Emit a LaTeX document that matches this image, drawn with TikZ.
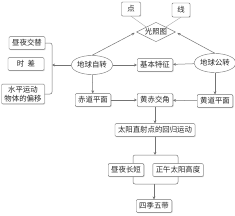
\documentclass[tikz,border=0pt]{standalone}
\usepackage{fontspec}
\newfontfamily\cjk{Noto Sans CJK SC}
\usetikzlibrary{shapes.geometric,shadows,arrows.meta}
\definecolor{linegray}{RGB}{115,115,115}
\definecolor{faintgray}{RGB}{170,170,170}
\tikzset{
  txt/.style={font=\cjk\fontsize{7.4}{8.8}\selectfont, text=black!85},
  box/.style={txt, draw=linegray, fill=white, rounded corners=1pt, inner xsep=3pt, inner ysep=3pt,
    drop shadow={shadow xshift=0.7pt, shadow yshift=-0.7pt, fill=black!35}},
  oval/.style={txt, ellipse, draw=linegray, fill=white, inner sep=0pt, minimum width=40pt, minimum height=19pt},
  diam/.style={txt, diamond, aspect=2, draw=linegray, fill=white, inner sep=0.5pt},
  arr/.style={draw=linegray, line width=0.5pt, -{Stealth[length=3pt,width=2.8pt]}},
  ln/.style={draw=linegray, line width=0.5pt},
  faint/.style={draw=faintgray, line width=0.4pt}
}
\begin{document}
\begin{tikzpicture}[x=1pt,y=-1pt]
  \useasboundingbox (0,0) rectangle (235,215);
  % top: light diagram
  \node[box, minimum width=19pt, minimum height=14pt] (dian) at (131,9) {点};
  \node[box, minimum width=18pt, minimum height=14pt] (xian) at (181,10) {线};
  \node[diam] (gzt) at (156,32) {光照图};
  \draw[faint] (dian.south) -- (gzt.north west);
  \draw[faint] (xian.south) -- (gzt.north east);
  % left column
  \node[box, minimum width=36pt] (zyjt) at (27,43) {昼夜交替};
  \node[box, minimum width=36pt] (shic) at (26,64) {时\ \ 差};
  \node[box, align=center, inner ysep=2pt] (pyi) at (23,94) {水平运动\\物体的偏移};
  % main row
  \node[oval] (zizh) at (92,65) {地球自转};
  \node[box] (jbtz) at (155,65) {基本特征};
  \node[oval, minimum width=42pt] (gozh) at (215,63) {地球公转};
  \node[box] (cdpm) at (93,100) {赤道平面};
  \node[box] (hcjj) at (155,100) {黄赤交角};
  \node[box] (hdpm) at (215,101) {黄道平面};
  \node[box] (tyzs) at (155,130) {太阳直射点的回归运动};
  \node[box] (zycd) at (126,170) {昼夜长短};
  \node[box] (zwgd) at (178,170) {正午太阳高度};
  \node[box] (sjwd) at (154,206) {四季五带};
  % connectors
  \draw[arr, shorten >=2pt] (zizh.north) -- (gzt.west);
  \draw[arr, shorten >=2pt] (gozh.north) -- (gzt.east);
  \draw[arr] (zizh) -- (jbtz);
  \draw[arr] (gozh) -- (jbtz);
  \draw[arr] (zizh) -- (cdpm);
  \draw[arr] (gozh) -- (hdpm);
  \draw[arr] (cdpm) -- (hcjj);
  \draw[arr] (hdpm) -- (hcjj);
  \draw[arr] (hcjj) -- (tyzs);
  % bracket on the left
  \coordinate (brk) at (52,65);
  \draw[ln, rounded corners=2pt] (zyjt.east) -| (brk) |- (pyi.east);
  \draw[arr] (zizh.west) -- (brk);
  % brackets at the bottom
  \coordinate (jl) at (133,155);
  \coordinate (jr) at (178,155);
  \coordinate (kl) at (133,184);
  \coordinate (kr) at (178,184);
  \draw[ln, rounded corners=2pt] (zycd.north -| jl) -- (jl) -- (jr) -- (zwgd.north -| jr);
  \draw[ln, rounded corners=2pt] (zycd.south -| kl) -- (kl) -- (kr) -- (zwgd.south -| kr);
  \draw[arr] (tyzs.south) -- (tyzs.south |- jl);
  \draw[arr] (sjwd.north |- kl) -- (sjwd.north);
\end{tikzpicture}
\end{document}
